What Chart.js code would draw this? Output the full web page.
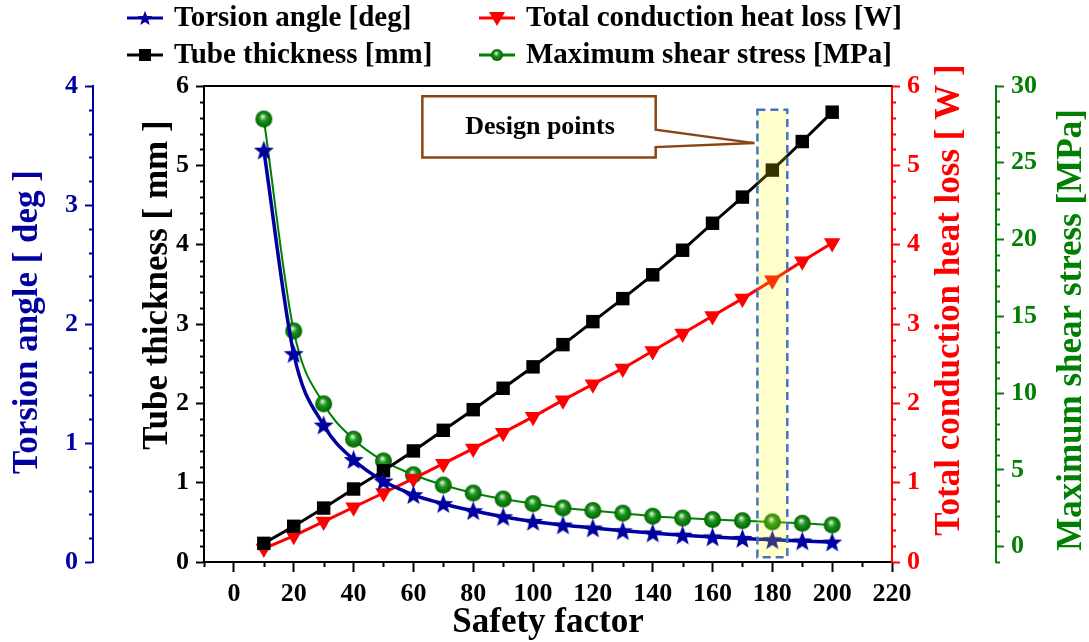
<!DOCTYPE html>
<html>
<head>
<meta charset="utf-8">
<script src="https://cdn.jsdelivr.net/npm/chart.js@4.4.1/dist/chart.umd.min.js"></script>
<style>
  html, body { margin: 0; padding: 0; background: #fff; }
</style>
</head>
<body>
<canvas id="chart" width="1089" height="642"></canvas>
<script>
// values
const safetyFactor = [10, 20, 30, 40, 50, 60, 70, 80, 90, 100, 110, 120, 130, 140, 150, 160, 170, 180, 190, 200];
const torsionAngle = [3.46, 1.75, 1.15, 0.86, 0.68, 0.565, 0.49, 0.43, 0.38, 0.34, 0.31, 0.285, 0.262, 0.243, 0.225, 0.21, 0.197, 0.186, 0.176, 0.167];
const tubeThickness = [0.235, 0.45, 0.68, 0.92, 1.15, 1.40, 1.66, 1.92, 2.19, 2.46, 2.74, 3.03, 3.32, 3.62, 3.93, 4.27, 4.60, 4.94, 5.30, 5.67];
const heatLoss = [0.17, 0.33, 0.51, 0.69, 0.87, 1.05, 1.24, 1.43, 1.63, 1.83, 2.04, 2.24, 2.44, 2.66, 2.88, 3.10, 3.32, 3.55, 3.79, 4.02];
const shearStress = [27.85, 14.05, 9.3, 7.0, 5.58, 4.68, 4.01, 3.49, 3.1, 2.8, 2.52, 2.35, 2.18, 1.98, 1.86, 1.76, 1.69, 1.61, 1.52, 1.41];

const xTicks = [0, 20, 40, 60, 80, 100, 120, 140, 160, 180, 200, 220];
const thicknessTicks = [0, 1, 2, 3, 4, 5, 6];
const torsionTicks = [0, 1, 2, 3, 4];
const heatTicks = [0, 1, 2, 3, 4, 5, 6];
const shearTicks = [0, 5, 10, 15, 20, 25, 30];

// design point band (x in safety factor, y in tube thickness units)
const designBand = { x0: 175, x1: 185, y0: 0.06, y1: 5.7 };
const calloutBox = { x0: 63, x1: 141, y0: 5.10, y1: 5.87, notchTop: 5.45, notchBottom: 5.23 };
const calloutTip = { x: 174, y: 5.28 };

const BLUE = '#0000A0';
const RED = '#FF0000';
const GREEN = '#008000';
const BLACK = '#000000';
const FONT = "'Liberation Serif', 'Times New Roman', serif";

function starImage(R, color) {
  const c = document.createElement('canvas');
  c.width = c.height = Math.ceil(2 * R + 2);
  const g = c.getContext('2d');
  const cx = c.width / 2, cy = c.height / 2 + R * 0.08;
  g.beginPath();
  for (let i = 0; i < 10; i++) {
    const r = i % 2 === 0 ? R : R * 0.42;
    const a = -Math.PI / 2 + i * Math.PI / 5;
    g.lineTo(cx + r * Math.cos(a), cy + r * Math.sin(a));
  }
  g.closePath();
  g.fillStyle = color;
  g.fill();
  return c;
}

function sphereImage(r) {
  const c = document.createElement('canvas');
  c.width = c.height = Math.ceil(2 * r + 2);
  const g = c.getContext('2d');
  const cx = c.width / 2, cy = c.height / 2;
  const grad = g.createRadialGradient(cx - r * 0.15, cy - r * 0.35, 0, cx, cy, r);
  grad.addColorStop(0, '#ffffff');
  grad.addColorStop(0.18, '#9fd09f');
  grad.addColorStop(0.45, '#1b951b');
  grad.addColorStop(1, '#006000');
  g.beginPath();
  g.arc(cx, cy, r, 0, Math.PI * 2);
  g.fillStyle = grad;
  g.fill();
  return c;
}

const starBig = starImage(10.5, BLUE);
const starSmall = starImage(8, BLUE);
const sphereBig = sphereImage(8.5);
const sphereSmall = sphereImage(6);

function fixedTicks(list) {
  return function (scale) { scale.ticks = list.map(v => ({ value: v })); };
}

function drawMinor(ctx, scale, start, step, count, len, color, skip) {
  ctx.save();
  ctx.strokeStyle = color;
  ctx.lineWidth = 2;
  ctx.beginPath();
  for (let i = 0; i <= count; i++) {
    const v = start + i * step;
    if (skip(v)) continue;
    const p = Math.round(scale.getPixelForValue(v)) + 0.5;
    if (scale.axis === 'x') {
      ctx.moveTo(p, scale.top);
      ctx.lineTo(p, scale.top + len);
    } else if (scale.position === 'left') {
      ctx.moveTo(scale.right, p);
      ctx.lineTo(scale.right - len, p);
    } else {
      ctx.moveTo(scale.left, p);
      ctx.lineTo(scale.left + len, p);
    }
  }
  ctx.stroke();
  ctx.restore();
}

function vText(ctx, text, x, y, color) {
  ctx.save();
  ctx.translate(x, y);
  ctx.rotate(-Math.PI / 2);
  ctx.fillStyle = color;
  ctx.font = 'bold 35px ' + FONT;
  ctx.textAlign = 'center';
  ctx.textBaseline = 'middle';
  ctx.fillText(text, 0, 0);
  ctx.restore();
}

const legendItems = [
  { label: 'Torsion angle [deg]', color: BLUE, marker: 'star', col: 0, row: 0 },
  { label: 'Total conduction heat loss [W]', color: RED, marker: 'tri', col: 1, row: 0 },
  { label: 'Tube thickness [mm]', color: BLACK, marker: 'rect', col: 0, row: 1 },
  { label: 'Maximum shear stress [MPa]', color: GREEN, marker: 'ball', col: 1, row: 1 }
];

const extras = {
  id: 'extras',
  afterDraw(chart) {
    const ctx = chart.ctx;
    const a = chart.chartArea;
    const sx = chart.scales.x, st = chart.scales.yThick, sa = chart.scales.yTorsion;
    const sh = chart.scales.yHeat, ss = chart.scales.yShear;

    // minor ticks
    drawMinor(ctx, sx, -10, 20, 11, 5, BLACK, () => false);
    drawMinor(ctx, st, 0, 0.2, 30, 4, BLACK, v => Math.abs(v - Math.round(v)) < 1e-6);
    drawMinor(ctx, sa, 0, 0.2, 20, 4, BLUE, v => Math.abs(v - Math.round(v)) < 1e-6);
    drawMinor(ctx, sh, 0, 0.2, 30, 4, RED, v => Math.abs(v - Math.round(v)) < 1e-6);
    drawMinor(ctx, ss, -1, 1, 31, 4, GREEN, v => Math.round(v) % 5 === 0);

    // top frame line
    ctx.save();
    ctx.strokeStyle = BLACK;
    ctx.lineWidth = 2;
    ctx.beginPath();
    ctx.moveTo(a.left - 1, a.top);
    ctx.lineTo(a.right, a.top);
    ctx.stroke();
    ctx.restore();

    // design band
    const bx0 = sx.getPixelForValue(designBand.x0), bx1 = sx.getPixelForValue(designBand.x1);
    const by0 = st.getPixelForValue(designBand.y1), by1 = st.getPixelForValue(designBand.y0);
    ctx.save();
    ctx.fillStyle = 'rgba(255,255,0,0.2)';
    ctx.fillRect(bx0, by0, bx1 - bx0, by1 - by0);
    ctx.strokeStyle = '#4472C4';
    ctx.lineWidth = 2.5;
    ctx.setLineDash([8, 5]);
    ctx.strokeRect(bx0, by0, bx1 - bx0, by1 - by0);
    ctx.restore();

    // callout
    const cx0 = sx.getPixelForValue(calloutBox.x0), cx1 = sx.getPixelForValue(calloutBox.x1);
    const cy0 = st.getPixelForValue(calloutBox.y1), cy1 = st.getPixelForValue(calloutBox.y0);
    ctx.save();
    ctx.beginPath();
    ctx.moveTo(cx0, cy0);
    ctx.lineTo(cx1, cy0);
    ctx.lineTo(cx1, st.getPixelForValue(calloutBox.notchTop));
    ctx.lineTo(sx.getPixelForValue(calloutTip.x), st.getPixelForValue(calloutTip.y));
    ctx.lineTo(cx1, st.getPixelForValue(calloutBox.notchBottom));
    ctx.lineTo(cx1, cy1);
    ctx.lineTo(cx0, cy1);
    ctx.closePath();
    ctx.fillStyle = '#ffffff';
    ctx.fill();
    ctx.strokeStyle = '#8B4513';
    ctx.lineWidth = 2.5;
    ctx.stroke();
    ctx.fillStyle = BLACK;
    ctx.font = 'bold 26px ' + FONT;
    ctx.textAlign = 'center';
    ctx.textBaseline = 'middle';
    ctx.fillText('Design points', (cx0 + cx1) / 2 + 1, (cy0 + cy1) / 2);
    ctx.restore();

    // axis titles
    vText(ctx, 'Torsion angle [ deg ]', 28, 322, BLUE);
    vText(ctx, 'Tube thickness [ mm ]', 158, 285, BLACK);
    vText(ctx, 'Total conduction heat loss [ W ]', 950, 300, RED);
    vText(ctx, 'Maximum shear stress [MPa]', 1072, 330, GREEN);
    ctx.save();
    ctx.fillStyle = BLACK;
    ctx.font = 'bold 35px ' + FONT;
    ctx.textAlign = 'center';
    ctx.textBaseline = 'middle';
    ctx.fillText('Safety factor', 548, 623);
    ctx.restore();

    // legend
    const colX = [127, 479];
    const rowY = [18, 55];
    legendItems.forEach(it => {
      const x = colX[it.col], y = rowY[it.row];
      ctx.save();
      ctx.strokeStyle = it.color;
      ctx.lineWidth = 3;
      ctx.beginPath();
      ctx.moveTo(x, y);
      ctx.lineTo(x + 36, y);
      ctx.stroke();
      const mx = x + 18;
      ctx.fillStyle = it.color;
      if (it.marker === 'star') {
        ctx.drawImage(starSmall, mx - starSmall.width / 2, y - starSmall.height / 2);
      } else if (it.marker === 'ball') {
        ctx.drawImage(sphereSmall, mx - sphereSmall.width / 2, y - sphereSmall.height / 2);
      } else if (it.marker === 'rect') {
        ctx.fillRect(mx - 6, y - 6, 12, 12);
      } else {
        ctx.beginPath();
        ctx.moveTo(mx - 8, y - 6);
        ctx.lineTo(mx + 8, y - 6);
        ctx.lineTo(mx, y + 8);
        ctx.closePath();
        ctx.fill();
      }
      ctx.fillStyle = BLACK;
      ctx.font = 'bold 29px ' + FONT;
      ctx.textAlign = 'left';
      ctx.textBaseline = 'middle';
      ctx.fillText(it.label, x + 47, y + 1);
      ctx.restore();
    });
  }
};

function pts(ys) {
  return safetyFactor.map((x, i) => ({ x: x, y: ys[i] }));
}

function yAxis(pos, weight, width, min, max, ticks, color) {
  return {
    type: 'linear',
    position: pos,
    weight: weight,
    min: min,
    max: max,
    afterBuildTicks: fixedTicks(ticks),
    afterFit: s => { s.width = width; },
    border: { display: true, color: color, width: 2 },
    grid: { drawOnChartArea: false, color: color, tickLength: 8, tickWidth: 2 },
    ticks: { color: color, padding: 7, font: { family: FONT, weight: 'bold', size: 26 } }
  };
}

new Chart(document.getElementById('chart'), {
  type: 'line',
  data: {
    datasets: [
      {
        label: 'Torsion angle [deg]',
        data: pts(torsionAngle),
        yAxisID: 'yTorsion',
        borderColor: BLUE,
        borderWidth: 3.5,
        pointStyle: starBig,
        cubicInterpolationMode: 'monotone'
      },
      {
        label: 'Tube thickness [mm]',
        data: pts(tubeThickness),
        yAxisID: 'yThick',
        borderColor: BLACK,
        backgroundColor: BLACK,
        borderWidth: 3,
        pointStyle: 'rect',
        pointRadius: 9.5,
        pointBorderWidth: 0
      },
      {
        label: 'Total conduction heat loss [W]',
        data: pts(heatLoss),
        yAxisID: 'yHeat',
        borderColor: RED,
        backgroundColor: RED,
        borderWidth: 3,
        pointStyle: 'triangle',
        pointRotation: 180,
        pointRadius: 9.5,
        pointBorderWidth: 0
      },
      {
        label: 'Maximum shear stress [MPa]',
        data: pts(shearStress),
        yAxisID: 'yShear',
        borderColor: GREEN,
        borderWidth: 2,
        pointStyle: sphereBig,
        cubicInterpolationMode: 'monotone'
      }
    ]
  },
  options: {
    responsive: false,
    animation: false,
    layout: { padding: { top: 86, left: 0, right: 0, bottom: 0 } },
    plugins: { legend: { display: false }, tooltip: { enabled: false } },
    scales: {
      x: {
        type: 'linear',
        position: 'bottom',
        min: -10,
        max: 220,
        afterBuildTicks: fixedTicks(xTicks),
        afterFit: s => { s.height = 80; },
        border: { display: true, color: BLACK, width: 2 },
        grid: { drawOnChartArea: false, color: BLACK, tickLength: 10, tickWidth: 2 },
        ticks: { color: BLACK, padding: 7, maxRotation: 0, font: { family: FONT, weight: 'bold', size: 26 } }
      },
      yThick: yAxis('left', 0, 111, 0, 6, thicknessTicks, BLACK),
      yTorsion: yAxis('left', 1, 93, 0, 4, torsionTicks, BLUE),
      yHeat: yAxis('right', 0, 104, 0, 6, heatTicks, RED),
      yShear: yAxis('right', 1, 93, -1, 30, shearTicks, GREEN)
    }
  },
  plugins: [extras]
});
</script>
</body>
</html>
